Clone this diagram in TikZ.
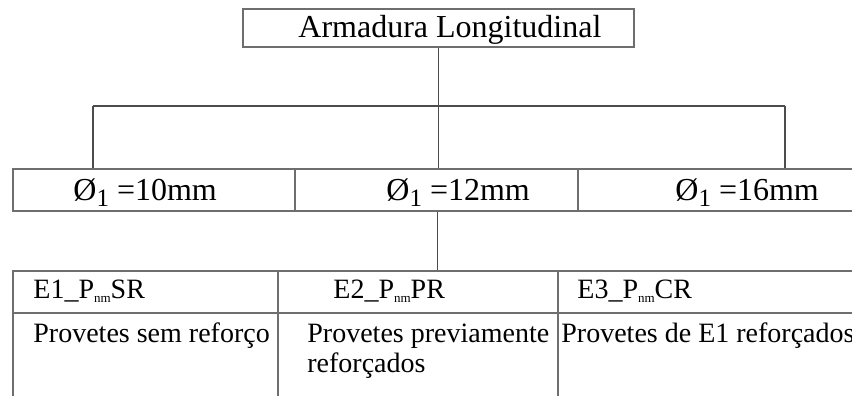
\documentclass[tikz,border=0pt]{standalone}
\usepackage{fontspec}
\setmainfont{Liberation Serif}
\usepackage{tikz}
\usetikzlibrary{positioning,calc}
\definecolor{lineC}{RGB}{110,110,110}
\newcommand{\lowtxt}[1]{\raisebox{-0.35ex}{\fontsize{6.5}{7}\selectfont #1}}
\newcommand{\diasub}[1]{\raisebox{-3pt}{\fontsize{12.5}{13}\selectfont #1}}
\tikzset{
  cellbox/.style={rectangle, draw=lineC, line width=0.7pt, inner sep=0pt},
  bigtxt/.style={anchor=base west, inner sep=0pt, font=\fontsize{16}{19}\selectfont},
  smalltxt/.style={anchor=base west, inner sep=0pt, font=\fontsize{14}{15}\selectfont},
  link/.style={draw=black!70, line width=0.7pt},
}

\begin{document}
\begin{tikzpicture}[x=0.5pt,y=-0.5pt]
  \useasboundingbox (0,0) rectangle (852,396);
  \clip (0,0) rectangle (852,396);

  % title box
  \node[cellbox, minimum width=195.5pt, minimum height=19pt] (title) at (438.5,28) {};
  \node[bigtxt] (titletxt) at (298,37) {Armadura Longitudinal};

  % diameter row
  \node[cellbox, minimum width=141pt, minimum height=21pt] (d10) at (154,190) {};
  \node[cellbox, minimum width=141.5pt, minimum height=21pt] (d12) at (436.5,190) {};
  \node[cellbox, minimum width=146pt, minimum height=21pt] (d16) at (724,190) {};
  \node[bigtxt] (d10txt) at (73,200) {Ø\diasub{1} =10mm};
  \node[bigtxt] (d12txt) at (386,200) {Ø\diasub{1} =12mm};
  \node[bigtxt] (d16txt) at (675,200) {Ø\diasub{1} =16mm};

  % branches
  \coordinate (bL) at (93,106);
  \coordinate (bR) at (785,106);
  \draw[link] (title.south) -- (title.south |- bL);
  \draw[link] (bL) -- (bR);
  \draw[link] (bL) -- (bL |- d10.north);
  \draw[link] (title.south |- bL) -- (title.south |- d12.north);
  \draw[link] (bR) -- (bR |- d16.north);

  % test series table
  \node[cellbox, minimum width=132.5pt, minimum height=21pt] (e1head) at (145.5,292) {};
  \node[cellbox, minimum width=140pt, minimum height=21pt] (e2head) at (418,292) {};
  \node[cellbox, minimum width=156pt, minimum height=21pt] (e3head) at (714,292) {};
  \node[cellbox, minimum width=132.5pt, minimum height=45pt] (e1body) at (145.5,358) {};
  \node[cellbox, minimum width=140pt, minimum height=45pt] (e2body) at (418,358) {};
  \node[cellbox, minimum width=156pt, minimum height=45pt] (e3body) at (714,358) {};
  \draw[link] ($(d12.south)+(1,0)$) -- ($(d12.south |- e2head.north)+(1,0)$);

  \node[smalltxt] (e1txt) at (33,298) {E1\_P\lowtxt{nm}SR};
  \node[smalltxt] (e2txt) at (333,298) {E2\_P\lowtxt{nm}PR};
  \node[smalltxt] (e3txt) at (577,298) {E3\_P\lowtxt{nm}CR};
  \node[smalltxt] (e1desc) at (33,342) {Provetes sem reforço};
  \node[smalltxt] (e2desc) at (307,342) {Provetes previamente};
  \node[smalltxt] (e2desc2) at (307,372) {reforçados};
  \node[smalltxt] (e3desc) at (561,342) {Provetes de E1 reforçados};
\end{tikzpicture}
\end{document}
